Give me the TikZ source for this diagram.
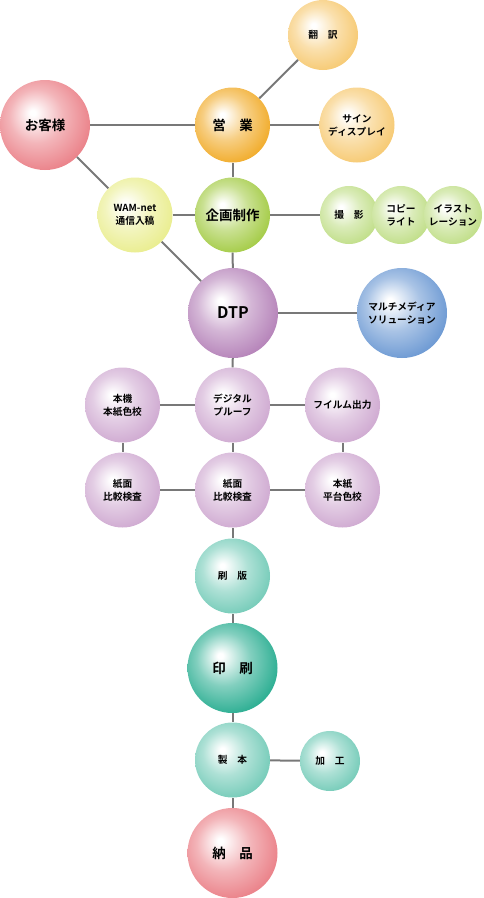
\documentclass[tikz,border=0pt]{standalone}
\usepackage{fontspec}
\usepackage{tikz}
\newfontfamily\jp{Noto Sans CJK JP}[BoldFont={Noto Sans CJK JP Bold}]
\definecolor{kyakuback}{RGB}{233,120,128}
\definecolor{eigyoback}{RGB}{240,166,28}
\definecolor{eigyolight}{RGB}{246,198,105}
\definecolor{wamback}{RGB}{232,236,135}
\definecolor{kikakuback}{RGB}{158,200,58}
\definecolor{kikakulight}{RGB}{188,220,128}
\definecolor{dtpback}{RGB}{176,122,180}
\definecolor{dtplight}{RGB}{204,164,206}
\definecolor{multiback}{RGB}{98,146,208}
\definecolor{insatsuback}{RGB}{28,168,138}
\definecolor{insatsulight}{RGB}{108,200,180}
\definecolor{senline}{RGB}{120,120,120}
\pgfdeclareradialshading[kyucol]{kyu}{\pgfpoint{-7bp}{7bp}}{color(0bp)=(white); color(1.5bp)=(white); color(15bp)=(kyucol!55!white); color(28bp)=(kyucol!90!white); color(35bp)=(kyucol); color(50bp)=(kyucol)}
\tikzset{
  kyu color/.code={\colorlet{kyucol}{#1}\tikzset{shading=kyu}},
  tama/.style={circle,inner sep=0pt,align=center,kyu color=#1},
  big/.style={tama=#1,minimum size=90pt,font=\jp\bfseries\fontsize{13.5}{16}\selectfont},
  mid/.style={tama=#1,minimum size=75pt,font=\jp\bfseries\fontsize{9.7}{13}\selectfont},
  sen/.style={draw=senline,line width=2pt}
}

\begin{document}
\begin{tikzpicture}[x=1pt,y=-1pt]
\useasboundingbox (0,0) rectangle (483,898);
\node [big=kyakuback] (kyaku) at (45,125) {お客様};
\node [mid=eigyoback,font=\jp\bfseries\fontsize{13.5}{16}\selectfont] (eigyo) at (232.5,125) {営　業};
\node [mid=eigyolight,minimum size=70pt] (honyaku) at (323,35) {翻　訳};
\node [mid=eigyolight] (sign) at (357,125) {サイン\\ディスプレイ};
\node [mid=wamback] (wam) at (135,215) {WAM-net\\通信入稿};
\node [mid=kikakuback,font=\jp\bfseries\fontsize{13.5}{16}\selectfont] (kikaku) at (232.5,215) {企画制作};
\node [mid=kikakulight,minimum size=58pt] (satsuei) at (349,215) {撮　影};
\node [mid=kikakulight,minimum size=58pt] (copy) at (401,215) {コピー\\ライト};
\node [mid=kikakulight,minimum size=58pt] (illust) at (453,215) {イラスト\\レーション};
\node [big=dtpback,font=\jp\bfseries\fontsize{16}{18}\selectfont] (dtp) at (233,313) {DTP};
\node [big=multiback,font=\jp\bfseries\fontsize{9.7}{13}\selectfont] (multi) at (402,313) {マルチメディア\\ソリューション};
\node [mid=dtplight] (honki) at (122.5,405) {本機\\本紙色校};
\node [mid=dtplight] (digital) at (232.5,405) {デジタル\\プルーフ};
\node [mid=dtplight] (film) at (342.5,405) {フイルム出力};
\node [mid=dtplight] (shimenl) at (122.5,490) {紙面\\比較検査};
\node [mid=dtplight] (shimenc) at (232.5,490) {紙面\\比較検査};
\node [mid=dtplight] (honshi) at (342.5,490) {本紙\\平台色校};
\node [mid=insatsulight] (seihan) at (232.5,576) {刷　版};
\node [big=insatsuback] (insatsu) at (232.5,668) {印　刷};
\node [mid=insatsulight] (seihon) at (232.5,760) {製　本};
\node [mid=insatsulight,minimum size=60pt] (kako) at (330,761) {加　工};
\node [big=kyakuback] (nohin) at (232.5,853) {納　品};
\draw [sen] (kyaku) -- (eigyo);
\draw [sen] (eigyo) -- (honyaku);
\draw [sen] (eigyo) -- (sign);
\draw [sen] (eigyo) -- (kikaku);
\draw [sen] (kyaku) -- (wam);
\draw [sen] (wam) -- (kikaku);
\draw [sen] (wam) -- (dtp);
\draw [sen] (kikaku) -- (satsuei);
\draw [sen] (kikaku) -- (dtp);
\draw [sen] (dtp) -- (multi);
\draw [sen] (dtp) -- (digital);
\draw [sen] (honki) -- (digital);
\draw [sen] (digital) -- (film);
\draw [sen] (honki) -- (shimenl);
\draw [sen] (digital) -- (shimenc);
\draw [sen] (film) -- (honshi);
\draw [sen] (shimenl) -- (shimenc);
\draw [sen] (shimenc) -- (honshi);
\draw [sen] (shimenc) -- (seihan);
\draw [sen] (seihan) -- (insatsu);
\draw [sen] (insatsu) -- (seihon);
\draw [sen] (seihon) -- (kako);
\draw [sen] (seihon) -- (nohin);
\end{tikzpicture}
\end{document}
